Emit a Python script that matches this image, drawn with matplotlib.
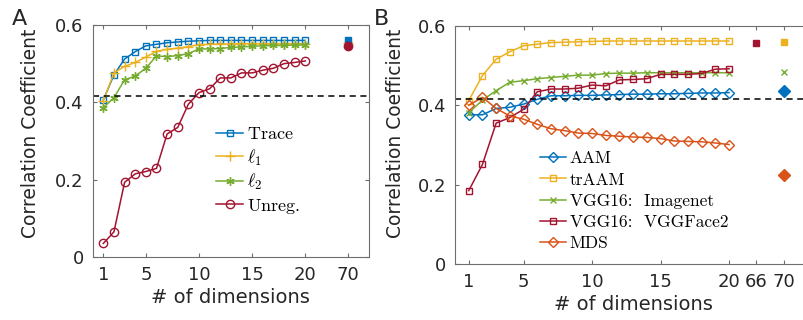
import matplotlib
matplotlib.use("Agg")
import matplotlib.pyplot as plt

plt.rcParams['font.family'] = 'DejaVu Sans'
plt.rcParams['mathtext.fontset'] = 'cm'

# x values: dimensions 1..20, plus the extra columns on the right
dims = list(range(1, 21))
tick_pos_a = [1, 5, 10, 15, 20, 24]
tick_lab_a = ['1', '5', '10', '15', '20', '70']
tick_pos_b = [1, 5, 10, 15, 20, 22, 24]
tick_lab_b = ['1', '5', '10', '15', '20', '66', '70']
chance = 0.415

# panel A
trace = [0.406, 0.471, 0.512, 0.531, 0.546, 0.550, 0.554, 0.556, 0.558, 0.559,
         0.560, 0.560, 0.560, 0.560, 0.560, 0.560, 0.560, 0.560, 0.560, 0.560]
l1 = [0.404, 0.476, 0.493, 0.503, 0.517, 0.532, 0.537, 0.540, 0.544, 0.549,
      0.550, 0.551, 0.551, 0.552, 0.552, 0.552, 0.552, 0.552, 0.552, 0.552]
l2 = [0.386, 0.412, 0.458, 0.468, 0.488, 0.520, 0.518, 0.521, 0.526, 0.538,
      0.538, 0.539, 0.542, 0.543, 0.545, 0.546, 0.547, 0.547, 0.548, 0.548]
unreg = [0.035, 0.065, 0.193, 0.215, 0.221, 0.229, 0.318, 0.335, 0.395, 0.425,
         0.435, 0.463, 0.463, 0.476, 0.476, 0.483, 0.488, 0.500, 0.503, 0.507]
full_a = {'Trace': 0.560, 'l1': 0.553, 'l2': 0.553, 'Unreg': 0.545}

# panel B
aam = [0.376, 0.376, 0.392, 0.395, 0.403, 0.415, 0.424, 0.424, 0.425, 0.425,
       0.426, 0.427, 0.428, 0.428, 0.429, 0.429, 0.430, 0.431, 0.431, 0.432]
traam = [0.412, 0.475, 0.516, 0.535, 0.550, 0.554, 0.558, 0.559, 0.560, 0.561,
         0.562, 0.562, 0.562, 0.562, 0.562, 0.562, 0.562, 0.562, 0.562, 0.562]
imagenet = [0.381, 0.413, 0.437, 0.458, 0.462, 0.467, 0.470, 0.473, 0.476, 0.476,
            0.480, 0.481, 0.481, 0.482, 0.482, 0.482, 0.482, 0.482, 0.482, 0.482]
vggface = [0.185, 0.251, 0.355, 0.369, 0.390, 0.434, 0.441, 0.441, 0.443, 0.451,
           0.449, 0.464, 0.465, 0.467, 0.478, 0.478, 0.478, 0.480, 0.491, 0.492]
mds = [0.400, 0.420, 0.392, 0.373, 0.365, 0.352, 0.341, 0.336, 0.330, 0.329,
       0.324, 0.322, 0.320, 0.319, 0.316, 0.310, 0.309, 0.308, 0.305, 0.301]
full_b = {'AAM': 0.436, 'trAAM': 0.560, 'Imagenet': 0.483, 'VGGFace2': 0.558, 'MDS': 0.224}

blue = '#0072BD'
yellow = '#EDB120'
green = '#77AC30'
red = '#A2142F'
orange = '#D95319'
star = (6, 2, 0)
frame = '#6e6e6e'
txt = '#262626'

fig = plt.figure(figsize=(8.04, 3.2), dpi=100)
ax1 = fig.add_axes([0.1153, 0.197, 0.3437, 0.725])
ax2 = fig.add_axes([0.566, 0.175, 0.443, 0.744])


def style(ax, pos, lab, ylab_xy):
    ax.set_ylim(0, 0.6)
    ax.set_yticks([0, 0.2, 0.4, 0.6])
    ax.set_yticklabels(['0', '0.2', '0.4', '0.6'])
    ax.set_xticks(pos)
    ax.set_xticklabels(lab)
    ax.tick_params(direction='in', top=True, right=True, length=3, pad=6.5,
                   labelsize=13, colors=frame, labelcolor=txt, width=0.8)
    for s in ax.spines.values():
        s.set_color(frame)
        s.set_linewidth(0.8)
    ax.set_xlabel('# of dimensions', fontsize=14, color=txt, labelpad=3)
    ax.set_ylabel('Correlation Coefficient', fontsize=13.5, color=txt)
    ax.yaxis.set_label_coords(*ylab_xy)
    ax.axhline(chance, color='k', ls='--', lw=1.1, dashes=(4, 3))


# ---- A
ax1.set_xlim(0, 26)
ax1.plot(dims, trace, '-s', color=blue, mfc='none', ms=5, lw=1.1, label=r'$\mathrm{Trace}$')
ax1.plot(dims, l1, '-+', color=yellow, ms=7, lw=1.1, label=r'$\ell_1$')
ax1.plot(dims, l2, '-', marker=star, color=green, ms=6, lw=1.1, label=r'$\ell_2$')
ax1.plot(dims, unreg, '-o', color=red, mfc='none', ms=6, lw=1.1, label=r'$\mathrm{Unreg.}$')
ax1.plot(24, full_a['l1'], '+', color=yellow, ms=7)
ax1.plot(24, full_a['l2'], marker=star, color=green, ms=6)
ax1.plot(24, full_a['Trace'], 's', color=blue, ms=5)
ax1.plot(24, full_a['Unreg'], 'o', color=red, ms=6)
style(ax1, tick_pos_a, tick_lab_a, (-0.19, 0.535))
ax1.legend(loc='upper left', bbox_to_anchor=(0.42, 0.60), frameon=False,
           fontsize=13, handlelength=1.5, handletextpad=0.2, labelspacing=0.25,
           borderaxespad=0)

# ---- B
ax2.set_xlim(0, 26)
ax2.plot(dims, aam, '-D', color=blue, mfc='none', ms=5, lw=1.1, label='AAM')
ax2.plot(dims, traam, '-s', color=yellow, mfc='none', ms=5, lw=1.1, label='trAAM')
ax2.plot(dims, imagenet, '-x', color=green, ms=4, lw=1.1, label='VGG16:  Imagenet')
ax2.plot(dims, vggface, '-s', color=red, mfc='none', ms=5, lw=1.1, label='VGG16:  VGGFace2')
ax2.plot(dims, mds, '-D', color=orange, mfc='none', ms=5, lw=1.1, label='MDS')
ax2.plot(24, full_b['AAM'], 'D', color=blue, ms=6)
ax2.plot(24, full_b['trAAM'], 's', color=yellow, ms=5)
ax2.plot(24, full_b['Imagenet'], 'x', color=green, ms=4)
ax2.plot(22, full_b['VGGFace2'], 's', color=red, ms=5)
ax2.plot(24, full_b['MDS'], 'D', color=orange, ms=6)
style(ax2, tick_pos_b, tick_lab_b, (-0.14, 0.55))
ax2.legend(loc='upper left', bbox_to_anchor=(0.22, 0.504), frameon=False,
           prop={'family': 'cmr10', 'size': 12.5}, handlelength=1.5,
           handletextpad=0.2, labelspacing=0.34, borderaxespad=0)

fig.text(12 / 804, 1 - 25 / 320, 'A', fontsize=16, color=txt, va='baseline')
fig.text(374 / 804, 1 - 25 / 320, 'B', fontsize=16, color=txt, va='baseline')

fig.savefig('out.png', dpi=100)
